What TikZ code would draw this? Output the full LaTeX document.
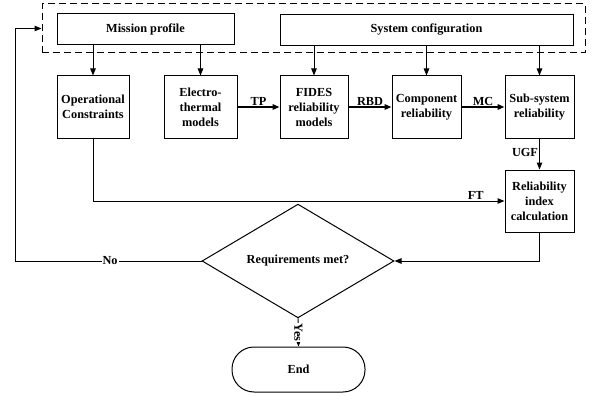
\documentclass[tikz,border=0pt]{standalone}
\usepackage{fontspec}
\setmainfont{Liberation Serif}
\usetikzlibrary{arrows.meta,shapes.geometric}
\begin{document}
\begin{tikzpicture}[x=1pt,y=-1pt,
  txt/.style={font=\bfseries\fontsize{12.3}{15}\selectfont},
  box/.style={draw,line width=1pt,txt,align=center,inner sep=0pt},
  arr/.style={-{Triangle[length=7pt,width=5.5pt]},line width=1pt},
  thickarr/.style={-{Triangle[length=7pt,width=5.5pt]},line width=1.6pt},
  lbl/.style={txt,inner sep=1pt}]
\useasboundingbox (0,0) rectangle (595,396);
% dashed frame
\node[draw,dash pattern=on 7pt off 4pt,line width=1pt,minimum width=543pt,minimum height=49pt,inner sep=0pt] (frame) at (313.5,28.5) {};
\node[box,minimum width=177pt,minimum height=31pt] (mission) at (145.5,29.5) {Mission profile};
\node[box,minimum width=293pt,minimum height=31pt] (sysconf) at (426.5,30) {System configuration};
% row 2
\node[box,minimum width=72pt,minimum height=62pt] (op) at (93,107) {Operational\\Constraints};
\node[box,minimum width=73pt,minimum height=62pt] (electro) at (200.5,107) {Electro-\\thermal\\models};
\node[box,minimum width=68pt,minimum height=62pt] (fides) at (314,107) {FIDES\\reliability\\models};
\node[box,minimum width=69pt,minimum height=62pt] (comp) at (426.5,107) {Component\\reliability};
\node[box,minimum width=69pt,minimum height=62pt] (sub) at (539.5,107) {Sub-system\\reliability};
\node[box,minimum width=69pt,minimum height=62pt] (rel) at (539.5,201) {Reliability\\index\\calculation};
% decision and end
\node[draw,diamond,line width=1pt,minimum width=192pt,minimum height=68pt,inner sep=0pt,txt] (dia) at (298,261) {Requirements met?};
\node[draw,line width=1pt,rounded corners=22pt,minimum width=133pt,minimum height=45pt,inner sep=0pt,txt] (end) at (298.5,369.5) {End};
% top arrows
\draw[arr] (mission.south -| op) -- (op.north);
\draw[arr] (mission.south -| electro) -- (electro.north);
\draw[arr] (sysconf.south -| fides) -- (fides.north);
\draw[arr] (sysconf.south -| comp) -- (comp.north);
\draw[arr] (sysconf.south -| sub) -- (sub.north);
% horizontal chain
\draw[thickarr] (electro.east) -- node[lbl,above]{TP} (fides.west);
\draw[thickarr] (fides.east) -- node[lbl,above]{RBD} (comp.west);
\draw[thickarr] (comp.east) -- node[lbl,above]{MC} (sub.west);
\draw[arr] (sub.south) -- node[lbl,left,pos=0.45]{UGF} (rel.north);
% FT
\coordinate (ftc) at (93,201);
\draw[arr] (op.south) -- (ftc) -- node[lbl,above,pos=0.93]{FT} (rel.west);
% to decision
\coordinate (relc) at (539.5,261);
\draw[arr] (rel.south) -- (relc) -- (dia.east);
% No loop
\coordinate (noc) at (15,261);
\draw[arr] (dia.west) -- node[lbl,fill=white,pos=0.49]{No} (noc) |- (frame.west);
% Yes
\draw[arr] (dia.south) -- node[lbl,fill=white,rotate=-90,inner sep=0.5pt]{Yes} (end.north);
\end{tikzpicture}
\end{document}
